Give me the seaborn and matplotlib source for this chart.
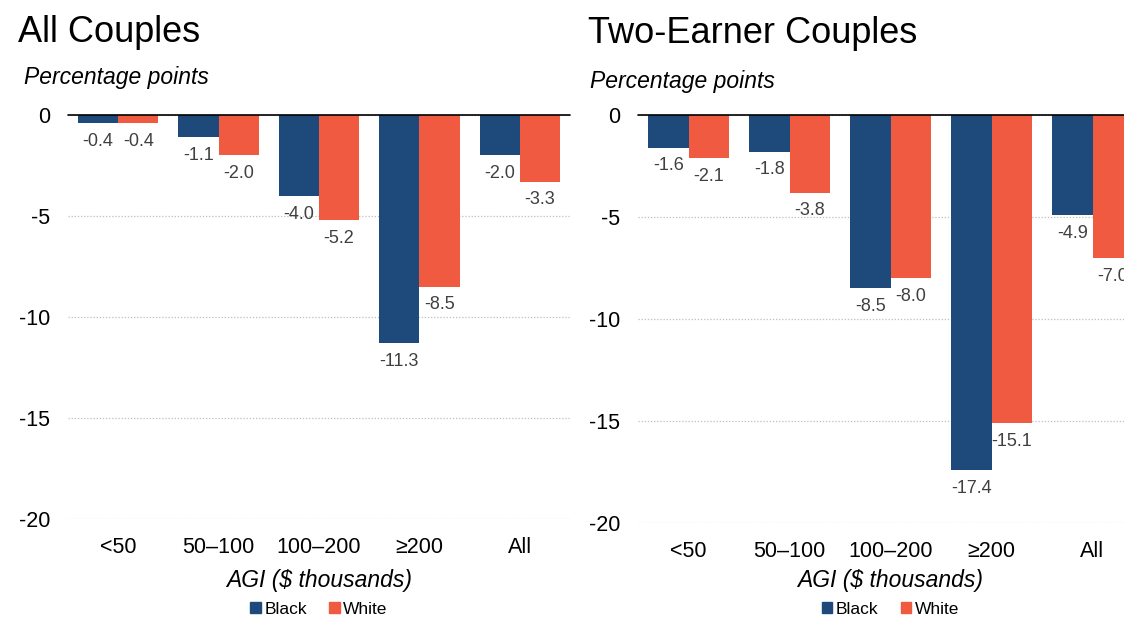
import pandas as pd
import seaborn as sns
import matplotlib.pyplot as plt

sns.set_style('white')
plt.rcParams['font.family'] = ['Liberation Sans', 'DejaVu Sans']
plt.rcParams['axes.unicode_minus'] = False
plt.rcParams['text.color'] = 'black'

agi = ['<50', '50–100', '100–200', '≥200', 'All']
races = ['Black', 'White']
all_black = [-0.4, -1.1, -4.0, -11.3, -2.0]
all_white = [-0.4, -2.0, -5.2, -8.5, -3.3]
two_black = [-1.6, -1.8, -8.5, -17.4, -4.9]
two_white = [-2.1, -3.8, -8.0, -15.1, -7.0]
colors = {'Black': '#1D4A7B', 'White': '#F05A40'}


def make_df(black, white):
    return pd.DataFrame({
        'agi': agi * 2,
        'race': ['Black'] * len(agi) + ['White'] * len(agi),
        'value': black + white,
    })


W, H = 1124, 619
fig = plt.figure(figsize=(W / 100, H / 100), dpi=100)

# axes boxes in pixels: left, top, right, bottom (right panel runs off the edge)
boxes = [(68, 115, 570, 519), (638, 115, 1143, 523)]
panels = [('All Couples', make_df(all_black, all_white), 18, 42, 24, 84),
          ('Two-Earner Couples', make_df(two_black, two_white), 588, 43, 590, 88)]

for (l, t, r, b), (title, df, tx, ty, sx, sy) in zip(boxes, panels):
    ax = fig.add_axes([l / W, 1 - b / H, (r - l) / W, (b - t) / H])
    sns.barplot(data=df, x='agi', y='value', hue='race', order=agi,
                hue_order=races, palette=colors, width=0.8, saturation=1,
                linewidth=0, ax=ax, legend=False)
    for c in ax.containers:
        ax.bar_label(c, fmt='{:.1f}', padding=7, fontsize=13, color='#404040')
    ax.set_ylim(-20, 0)
    ax.set_xlim(-0.5, 4.5)
    ax.set_yticks([0, -5, -10, -15, -20])
    ax.set_yticklabels(['0', '-5', '-10', '-15', '-20'])
    ax.yaxis.grid(True, linestyle=(0, (1, 1.5)), color='#BFBFBF', lw=0.9)
    ax.set_axisbelow(True)
    for s in ax.spines.values():
        s.set_visible(False)
    ax.axhline(0, color='black', lw=1.2, clip_on=False, zorder=5)
    ax.tick_params(axis='both', length=0, labelsize=15.5, colors='black')
    ax.tick_params(axis='y', pad=13)
    ax.tick_params(axis='x', pad=13)
    ax.set_xlabel('')
    ax.set_ylabel('')
    ah = b - t
    ax.text(0.5, (b - 581) / ah, 'AGI ($ thousands)', transform=ax.transAxes,
            ha='center', va='center', fontsize=16.5, style='italic')
    handles = [plt.Rectangle((0, 0), 1, 1, color=colors[k]) for k in races]
    ax.legend(handles, races, loc='center', bbox_to_anchor=(0.5, (b - 609) / ah),
              ncol=2, frameon=False, fontsize=12.5, handlelength=0.6,
              handleheight=0.6, handletextpad=0.2, columnspacing=1.3)
    fig.text(tx / W, 1 - ty / H, title, fontsize=26, va='baseline', ha='left')
    fig.text(sx / W, 1 - sy / H, 'Percentage points', fontsize=16.5,
             style='italic', va='baseline', ha='left')

fig.savefig('out.png', dpi=100)
